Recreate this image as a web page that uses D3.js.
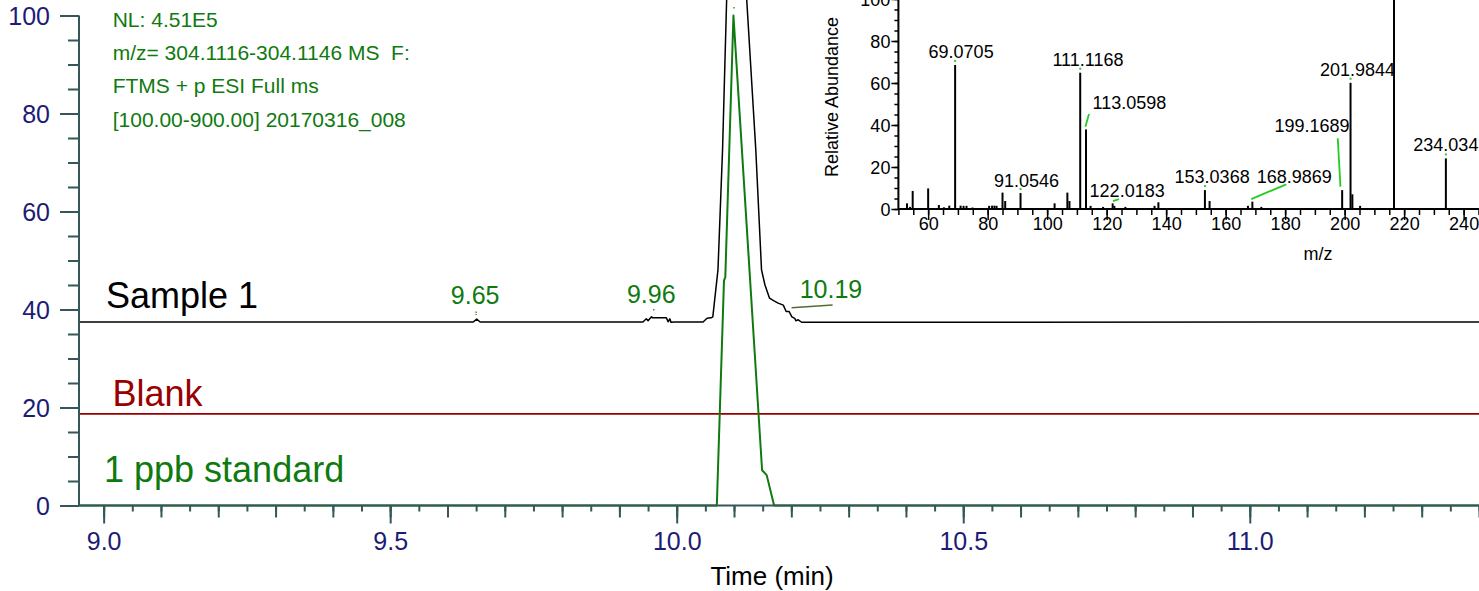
<!DOCTYPE html>
<html><head><meta charset="utf-8">
<script src="https://cdn.jsdelivr.net/npm/d3@7"></script>
<style>
html,body{margin:0;padding:0;background:#fff;overflow:hidden}
svg{display:block;font-family:"Liberation Sans",Arial,Helvetica,sans-serif}
</style>
</head><body>
<svg id="c" width="1479" height="591"></svg>
<script>
// ---------------- DATA ----------------
// Chromatogram traces (time in min, relative abundance)
const sampleTime  = [8.957, 9.645, 9.651, 9.657, 9.941, 9.947, 9.950, 9.956, 9.958, 9.982, 9.985, 9.988, 9.990, 9.996, 10.046, 10.053, 10.060, 10.063, 10.072, 10.080, 10.098, 10.138, 10.148, 10.154, 10.162, 10.169, 10.177, 10.186, 10.191, 10.196, 10.201, 10.206, 10.208, 10.212, 10.218, 11.400];
const sampleAbund = [37.45, 37.45, 38.05, 37.45, 37.45, 38.1, 37.7, 38.5, 38.3, 38.3, 37.5, 38.1, 37.4, 37.45, 37.45, 38.2, 38.3, 38.5, 48.1, 72.6, 150, 72.6, 48.1, 45.0, 42.3, 41.8, 41.3, 40.9, 39.6, 39.6, 38.5, 38.2, 37.7, 37.9, 37.4, 37.45];
const blankTime   = [8.957, 11.400];
const blankAbund  = [18.7, 18.7];
const stdTime     = [8.957, 10.070, 10.0825, 10.0848, 10.099, 10.149, 10.157, 10.170, 11.400];
const stdAbund    = [0, 0, 45.9, 46.6, 100, 7.2, 6.2, 0, 0];

const traceNames  = ["Sample 1", "Blank", "1 ppb standard"];
const peakLabels  = ["9.65", "9.96", "10.19", "10.10"];
const peakTimes   = [9.65, 9.96, 10.19, 10.10];
const headerLines = ["NL: 4.51E5", "m/z= 304.1116-304.1146 MS  F:", "FTMS + p ESI Full ms", "[100.00-900.00] 20170316_008"];

const xTickValues = [9.0, 9.5, 10.0, 10.5, 11.0];
const xTickLabels = ["9.0", "9.5", "10.0", "10.5", "11.0"];
const yTickValues = [0, 20, 40, 60, 80, 100];
const yTickLabels = ["0", "20", "40", "60", "80", "100"];

// Inset mass spectrum (m/z, relative abundance)
const specMz  = [52.9, 53.9, 54.8, 60.0, 63.6, 65.3, 67.1, 69.0705, 70.9, 71.9, 72.9, 74.9, 80.5, 81.5, 82.3, 83.0, 85.0, 85.9, 91.0546, 102.5, 106.8, 107.5, 111.1168, 113.0598, 114.6, 118.8, 122.0183, 122.6, 126.3, 136.1, 137.4, 153.0368, 154.6, 167.5, 168.9869, 172.0, 199.1689, 201.9844, 202.6, 205.2, 216.6, 234.0342];
const specInt = [2.7, 1.0, 8.6, 9.8, 1.9, 0.8, 1.6, 68.6, 1.6, 1.5, 1.5, 0.7, 1.5, 1.6, 1.6, 1.5, 7.8, 3.8, 7.6, 2.7, 7.8, 3.8, 64.9, 37.9, 1.5, 1.0, 2.7, 1.5, 1.0, 1.5, 3.2, 9.0, 3.8, 1.5, 3.5, 1.0, 9.0, 60.1, 7.0, 1.5, 100, 24.1];
const specLabelMz   = [69.0705, 91.0546, 111.1168, 113.0598, 122.0183, 153.0368, 168.9869, 199.1689, 201.9844, 234.0342];
const specLabelText = ["69.0705", "91.0546", "111.1168", "113.0598", "122.0183", "153.0368", "168.9869", "199.1689", "201.9844", "234.0342"];
const specXTicks = [60, 80, 100, 120, 140, 160, 180, 200, 220, 240];
const specYTicks = [0, 20, 40, 60, 80, 100];

// ---------------- LAYOUT (pixels) ----------------
const FONT = '"Liberation Sans",Arial,sans-serif';
const mainLabelLayout = [
  {dx: -1,   base: 304,   mark: [311.5, 315]},
  {dx: -2.5, base: 303.3, mark: [309, 311.5]},
  {dx: 45.4, base: 298.3, leader: [[6, 307.7], [47, 305]]},
  {dx: -0.7, base: 0.3,   mark: [7, 9.5]}
];
const specLabelLayout = [
  {dx: 6,    dy: -6.6, dot: true},
  {dx: 6,    dy: -6.3, dot: true},
  {dx: 7.7,  dy: -7,   dot: true},
  {dx: 43.5, dy: -20,  leader: [[-0.6, -2.7], [3, -15.4]]},
  {dx: 14.5, dy: -6.6, leader: [[0.3, -2.3], [6.3, -4.3]]},
  {dx: 7.2,  dy: -7.1, dot: true},
  {dx: 41.9, dy: -18.4, leader: [[-1.1, -2.6], [33.9, -17.3]]},
  {dx: -30.2, dy: -58.4, leader: [[-1.7, -3.4], [-4.4, -51.8]]},
  {dx: 6.9,  dy: -6.8, dot: true},
  {dx: 5,    dy: -7.7, dot: true}
];

// ---------------- DRAW ----------------
const svg = d3.select("#c");
const axisColor = "#35575a";
const tickTextColor = "#1c1c74";
const green = "#0f7a0f";
const red = "#990000";

const x = d3.scaleLinear().domain([8.957, 11.4]).range([79, 1479]);
const y = d3.scaleLinear().domain([0, 100]).range([505.5, 15.5]);

const line = d3.line().x(d => x(d[0])).y(d => y(d[1]));

svg.append("path").datum(d3.zip(sampleTime, sampleAbund))
  .attr("d", line).attr("fill", "none").attr("stroke", "#000").attr("stroke-width", 1.5)
  .attr("stroke-linejoin", "round");
svg.append("path").datum(d3.zip(blankTime, blankAbund))
  .attr("d", line).attr("fill", "none").attr("stroke", red).attr("stroke-width", 1.8);
svg.append("path").datum(d3.zip(stdTime, stdAbund))
  .attr("d", line).attr("fill", "none").attr("stroke", green).attr("stroke-width", 2)
  .attr("stroke-linejoin", "round");

function addTicks(g, axis) {
  g.call(axis);
  g.select(".domain").remove();
  g.selectAll(".tick line").attr("stroke", axisColor).attr("stroke-width", 2);
}
const xMinor = d3.range(0, 49).map(i => +(9.0 + i * 0.05).toFixed(2)).filter(v => v <= 11.4);
const xMed = xMinor.filter(v => Math.abs(v * 10 - Math.round(v * 10)) < 1e-6);
const gxMinor = svg.append("g").attr("transform", `translate(0,${y(0)})`);
addTicks(gxMinor, d3.axisBottom(x).tickValues(xMinor).tickSize(6).tickFormat(""));
const gxMed = svg.append("g").attr("transform", `translate(0,${y(0)})`);
addTicks(gxMed, d3.axisBottom(x).tickValues(xMed).tickSize(12).tickFormat(""));
const gx = svg.append("g").attr("transform", `translate(0,${y(0)})`);
addTicks(gx, d3.axisBottom(x).tickValues(xTickValues).tickSize(18).tickFormat((d, i) => xTickLabels[i]));
gx.selectAll(".tick text").attr("y", 44.5).attr("dy", null)
  .attr("fill", tickTextColor).style("font-size", "25px").style("font-family", FONT);
svg.append("line").attr("x1", 79).attr("x2", 1479).attr("y1", y(0)).attr("y2", y(0))
  .attr("stroke", axisColor).attr("stroke-width", 2);

const yMinor = d3.range(0, 101, 5);
const gyMinor = svg.append("g").attr("transform", "translate(79,0)");
addTicks(gyMinor, d3.axisLeft(y).tickValues(yMinor).tickSize(11).tickFormat(""));
const gy = svg.append("g").attr("transform", "translate(79,0)");
addTicks(gy, d3.axisLeft(y).tickValues(yTickValues).tickSize(19).tickPadding(10).tickFormat((d, i) => yTickLabels[i]));
gy.selectAll(".tick text").attr("fill", tickTextColor).style("font-size", "25px").style("font-family", FONT).attr("dy", "0.35em");
svg.append("line").attr("x1", 79).attr("x2", 79).attr("y1", y(0)).attr("y2", y(100))
  .attr("stroke", axisColor).attr("stroke-width", 2);

svg.append("text").attr("x", 772).attr("y", 585).attr("text-anchor", "middle")
  .style("font-size", "26px").attr("fill", "#000").text("Time (min)");

svg.append("text").attr("x", 106).attr("y", 307.7).style("font-size", "36px").attr("fill", "#000").text(traceNames[0]);
svg.append("text").attr("x", 112.5).attr("y", 406).style("font-size", "36px").attr("fill", red).text(traceNames[1]);
svg.append("text").attr("x", 104).attr("y", 481.7).style("font-size", "36px").attr("fill", green).text(traceNames[2]);

svg.append("g").selectAll("text").data(headerLines).join("text")
  .attr("x", 112.7).attr("y", (d, i) => 26.7 + i * 33.3)
  .style("font-size", "21px").style("white-space", "pre").attr("fill", green).text(d => d);

peakLabels.forEach((lab, i) => {
  const L = mainLabelLayout[i];
  const px = x(peakTimes[i]);
  svg.append("text").attr("x", px + L.dx).attr("y", L.base).attr("text-anchor", "middle")
    .style("font-size", "25px").attr("fill", green).text(lab);
  if (L.mark) {
    svg.append("line").attr("x1", px).attr("x2", px).attr("y1", L.mark[0]).attr("y2", L.mark[1])
      .attr("stroke", "#6b7f2a").attr("stroke-width", 1.5).attr("stroke-dasharray", "1.5,1");
  }
  if (L.leader) {
    svg.append("line").attr("x1", px + L.leader[0][0]).attr("y1", L.leader[0][1])
      .attr("x2", px + L.leader[1][0]).attr("y2", L.leader[1][1])
      .attr("stroke", "#556b2f").attr("stroke-width", 1.5);
  }
});

// ---------------- INSET SPECTRUM ----------------
const xs = d3.scaleLinear().domain([50, 245]).range([898.4, 1478.5]);
const ys = d3.scaleLinear().domain([0, 100]).range([209, -1]);
const inset = svg.append("g");

inset.selectAll("line.pk").data(d3.zip(specMz, specInt)).join("line")
  .attr("class", "pk")
  .attr("x1", d => xs(d[0])).attr("x2", d => xs(d[0]))
  .attr("y1", ys(0)).attr("y2", d => ys(d[1]))
  .attr("stroke", "#000").attr("stroke-width", 2);

function addInsetTicks(g, axis) {
  g.call(axis);
  g.select(".domain").remove();
  g.selectAll(".tick line").attr("stroke", "#000").attr("stroke-width", 1.5);
}
const sxMinor = d3.range(50, 246, 5);
const gsxMinor = inset.append("g").attr("transform", `translate(0,${ys(0)})`);
addInsetTicks(gsxMinor, d3.axisBottom(xs).tickValues(sxMinor).tickSize(6).tickFormat(""));
const gsx = inset.append("g").attr("transform", `translate(0,${ys(0)})`);
addInsetTicks(gsx, d3.axisBottom(xs).tickValues(specXTicks).tickSize(11).tickFormat(d => String(d)));
gsx.selectAll(".tick text").attr("y", 20.5).attr("dy", null).attr("fill", "#000")
  .style("font-size", "18px").style("font-family", FONT);

const syMinor = d3.range(0, 101, 5);
const gsyMinor = inset.append("g").attr("transform", `translate(${xs(50)},0)`);
addInsetTicks(gsyMinor, d3.axisLeft(ys).tickValues(syMinor).tickSize(4).tickFormat(""));
const gsy = inset.append("g").attr("transform", `translate(${xs(50)},0)`);
addInsetTicks(gsy, d3.axisLeft(ys).tickValues(specYTicks).tickSize(7).tickPadding(1).tickFormat(d => String(d)));
gsy.selectAll(".tick text").attr("fill", "#000").attr("dy", "0.35em")
  .style("font-size", "18px").style("font-family", FONT);

inset.append("line").attr("x1", xs(50)).attr("x2", 1479).attr("y1", ys(0)).attr("y2", ys(0))
  .attr("stroke", "#000").attr("stroke-width", 2);
inset.append("line").attr("x1", xs(50)).attr("x2", xs(50)).attr("y1", ys(0)).attr("y2", ys(100))
  .attr("stroke", "#000").attr("stroke-width", 2);

inset.append("text").attr("x", 1318).attr("y", 260).attr("text-anchor", "middle")
  .style("font-size", "18px").attr("fill", "#000").text("m/z");
inset.append("text").attr("transform", "translate(838,177) rotate(-90)")
  .style("font-size", "18px").attr("fill", "#000").text("Relative Abundance");

specLabelMz.forEach((mz, i) => {
  const L = specLabelLayout[i];
  const idx = specMz.indexOf(mz);
  const px = xs(mz), py = ys(specInt[idx]);
  inset.append("text").attr("x", px + L.dx).attr("y", py + L.dy).attr("text-anchor", "middle")
    .style("font-size", "18px").attr("fill", "#000").text(specLabelText[i]);
  if (L.dot) {
    inset.append("rect").attr("x", px - 1).attr("y", py - 5).attr("width", 2).attr("height", 2)
      .attr("fill", "#33cc33");
  }
  if (L.leader) {
    inset.append("line").attr("x1", px + L.leader[0][0]).attr("y1", py + L.leader[0][1])
      .attr("x2", px + L.leader[1][0]).attr("y2", py + L.leader[1][1])
      .attr("stroke", "#22cc22").attr("stroke-width", 1.8);
  }
});
</script>
</body></html>
